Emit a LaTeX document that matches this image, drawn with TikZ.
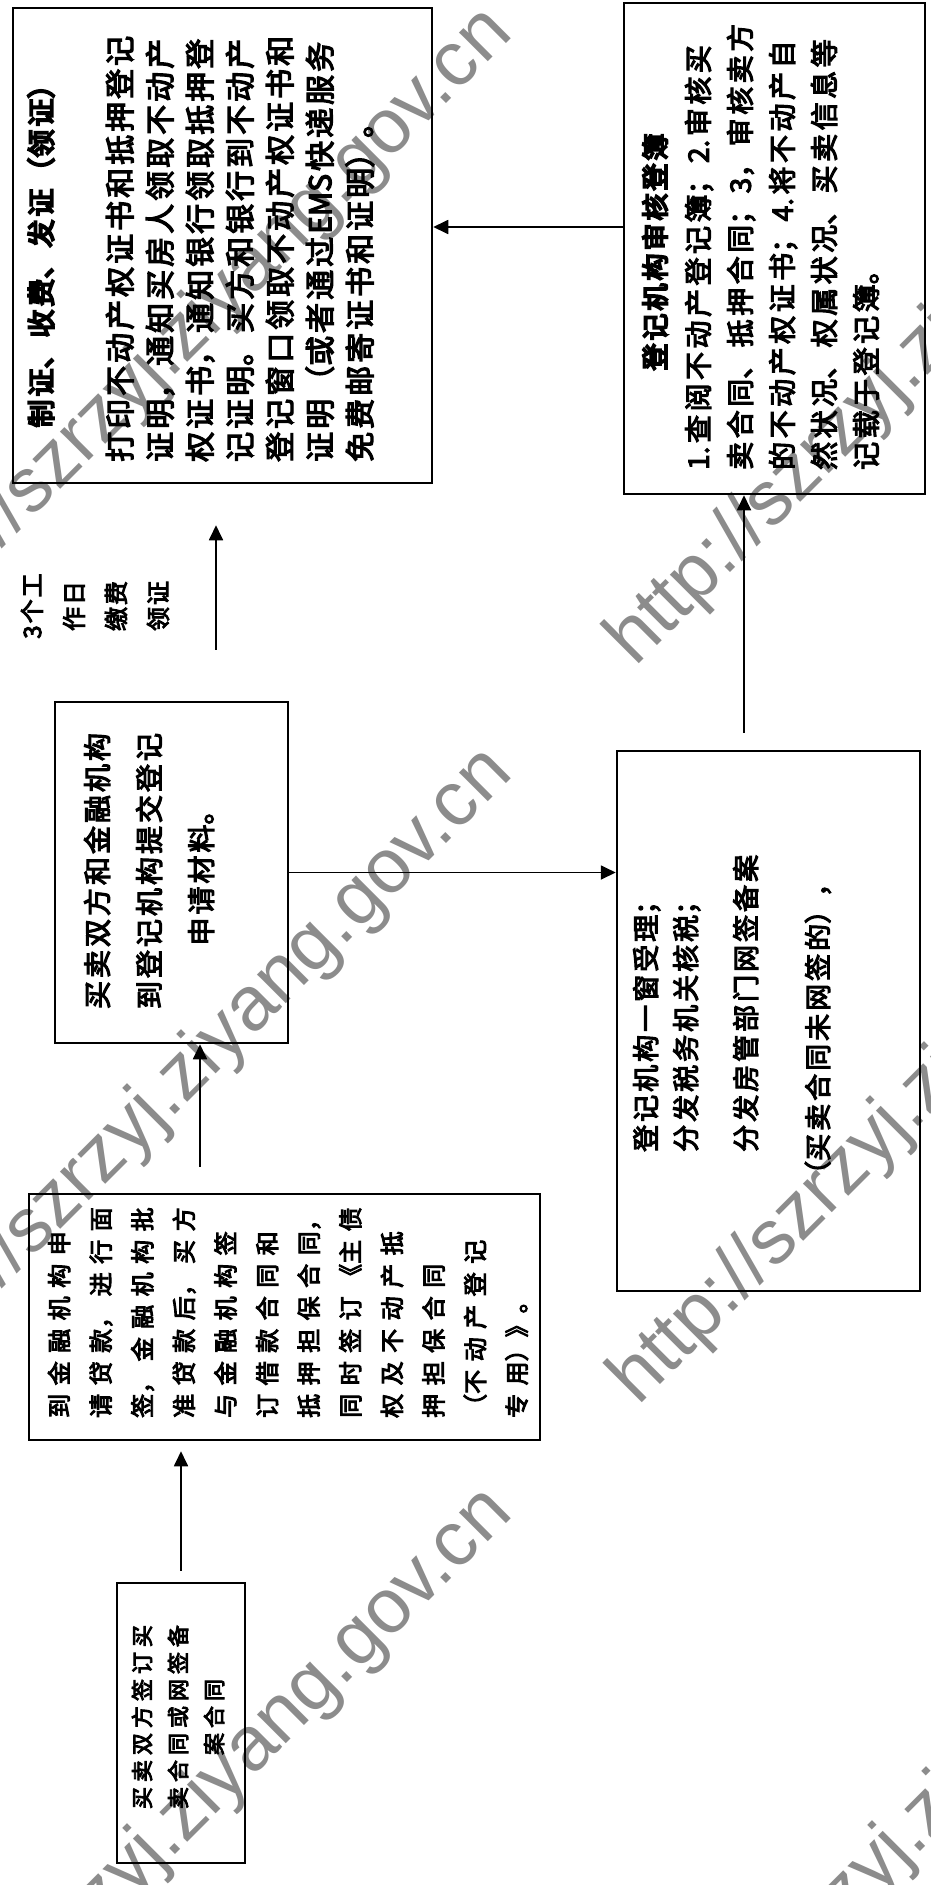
\documentclass[tikz,border=0pt]{standalone}
\usepackage{fontspec}
\setmainfont{Liberation Sans}
\newfontfamily\cjk[FakeBold=4]{Noto Sans CJK SC}
\newfontfamily\cjkb[FakeBold=7]{Noto Sans CJK SC}
\usetikzlibrary{arrows.meta}
\newcommand\cjkset[3]{\cjk\fontsize{#1}{#2}\selectfont\XeTeXlinebreaklocale "zh"\XeTeXlinebreakskip=#3\relax}
\newcommand\cjkbset[3]{\cjkb\fontsize{#1}{#2}\selectfont\XeTeXlinebreaklocale "zh"\XeTeXlinebreakskip=#3\relax}
\begin{document}
\begin{tikzpicture}[x=1pt,y=-1pt,
  box/.style={draw,line width=2.5pt,rectangle,inner sep=0pt},
  arr/.style={line width=1.8pt,-{Triangle[length=15pt,width=14pt]}},
  txt/.style={rotate=90,inner sep=0pt,text width=#1},
  wm/.style={rotate=45,anchor=base west,inner sep=0pt,text=black!45,font=\fontsize{77}{77}\selectfont}]
\useasboundingbox[fill=white] (0,0) rectangle (931,1885);
% watermarks
\node[wm] (w1) at (-105,655) {http://szrzyj.ziyang.gov.cn};
\node[wm] (w2) at (635,668) {http://szrzyj.ziyang.gov.cn};
\node[wm] (w3) at (-105,1395) {http://szrzyj.ziyang.gov.cn};
\node[wm] (w4) at (638,1407) {http://szrzyj.ziyang.gov.cn};
\node[wm] (w5) at (-105,2135) {http://szrzyj.ziyang.gov.cn};
\node[wm] (w6) at (640,2132) {http://szrzyj.ziyang.gov.cn};
% boxes
\node[box,minimum width=419pt,minimum height=475pt] (b1) at (222.5,245.5) {};
\node[box,minimum width=301pt,minimum height=491pt] (b2) at (774.5,248.5) {};
\node[box,minimum width=233pt,minimum height=341pt] (b3) at (171.5,872.5) {};
\node[box,minimum width=303pt,minimum height=540pt] (b4) at (768.5,1021) {};
\node[box,minimum width=511pt,minimum height=246pt] (b5) at (284.5,1317) {};
\node[box,minimum width=128pt,minimum height=280pt] (b6) at (181,1723) {};
% texts
\node[txt=600pt,align=center,font={\cjkbset{28}{40}{3pt}}] (t1a) at (41,249) {制证、收费、发证（领证）};
\node[txt=600pt,align=left,anchor=west,font={\cjkset{30}{40}{3pt}}] (t1b) at (240,462)
 {打印不动产权证书和抵押登记\\证明，通知买房人领取不动产\\权证书，通知银行领取抵押登\\记证明。买方和银行到不动产\\登记窗口领取不动产权证书和\\证明（或者通过EMS快递服务\\免费邮寄证书和证明）。};
\node[txt=600pt,align=center,font={\cjkbset{27}{40}{3pt}}] (t2a) at (655,252) {登记机构审核登簿};
\node[txt=600pt,align=left,anchor=west,font={\cjkset{28}{42}{3.5pt}}] (t2b) at (782,470)
 {1.查阅不动产登记簿；2.审核买\\卖合同、抵押合同；3，审核卖方\\的不动产权证书；4.将不动产自\\然状况、权属状况、买卖信息等\\记载于登记簿。};
\node[txt=600pt,align=center,font={\cjkset{28}{52}{3pt}}] (t3) at (149,871)
 {买卖双方和金融机构\\到登记机构提交登记\\申请材料。};
\node[txt=600pt,align=center,font={\cjkset{24}{42}{2pt}}] (t3n) at (95,606)
 {3个工\\作日\\缴费\\领证};
\node[txt=600pt,align=left,anchor=west,font={\cjkset{27}{40}{3pt}}] (t4) at (732,1152)
 {登记机构一窗受理；\\分发税务机关核税；\\[20pt]分发房管部门网签备案\\[32pt]\hspace*{-36pt}（买卖合同未网签的），};
\node[txt=600pt,align=left,anchor=west,font={\cjkset{24}{41.6}{8.5pt}}] (t5) at (288,1418)
 {到金融机构申\\请贷款，进行面\\签，金融机构批\\准贷款后，买方\\与金融机构签\\订借款合同和\\抵押担保合同，\\同时签订《主债\\权及不动产抵\\押担保合同\\（不动产登记\\专用）》。};
\node[txt=600pt,align=center,font={\cjkset{22}{36}{5pt}}] (t6) at (178,1717)
 {买卖双方签订买\\卖合同或网签备\\案合同};
% connectors
\coordinate (x2) at (200,0);
\coordinate (x4) at (744,0);
\coordinate (y5) at (0,227);
\coordinate (x6) at (216,0);
\draw[arr,shorten <=11pt,shorten >=10pt] (b6.north) -- (b6.north |- b5.south);
\draw[arr,shorten <=26pt] (b5.north -| x2) -- (b3.south -| x2);
\draw[arr] (b3.east) -- (b3.east -| b4.west);
\draw[arr,shorten <=17pt] (b4.north -| x4) -- (b2.south -| x4);
\draw[arr] (b2.west |- y5) -- (b1.east |- y5);
\draw[arr,shorten <=51pt,shorten >=41pt] (b3.north -| x6) -- (b1.south -| x6);
\end{tikzpicture}
\end{document}
